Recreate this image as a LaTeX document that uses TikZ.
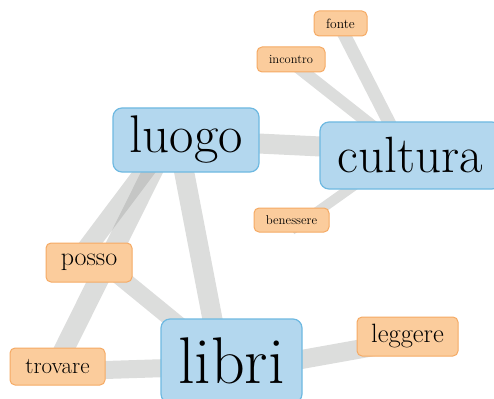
\documentclass[tikz,border=0pt]{standalone}
\usetikzlibrary{backgrounds}
\definecolor{bfill}{RGB}{179,215,238}
\definecolor{bline}{RGB}{110,185,225}
\definecolor{ofill}{RGB}{251,204,156}
\definecolor{oline}{RGB}{245,170,100}
\definecolor{egray}{RGB}{150,152,150}
\tikzset{
  bignode/.style={draw=bline, fill=bfill, line width=1.2pt, rounded corners=9pt, inner sep=0pt, align=center},
  smallnode/.style={draw=oline, fill=ofill, line width=1pt, rounded corners=5pt, inner sep=0pt, align=center},
  link/.style={draw=egray, opacity=0.33, line cap=butt}
}
\begin{document}
\begin{tikzpicture}[x=1pt,y=-1pt]
\useasboundingbox (0,0) rectangle (494,398);
\clip (0,0) rectangle (494,398);
% nodes
\node[bignode, minimum width=146pt, minimum height=64pt, font=\fontsize{53}{62}\selectfont] (luogo) at (186,140) {luogo};
\node[bignode, minimum width=181pt, minimum height=67pt, font=\fontsize{51}{60}\selectfont] (cultura) at (410.5,155.5) {cultura};
\node[bignode, minimum width=141pt, minimum height=84pt, font=\fontsize{66}{76}\selectfont] (libri) at (231.5,361) {libri};
\node[smallnode, minimum width=53pt, minimum height=25pt, font=\fontsize{13.5}{16}\selectfont] (fonte) at (340.5,23.5) {fonte};
\node[smallnode, minimum width=68pt, minimum height=25pt, font=\fontsize{12.5}{15}\selectfont] (incontro) at (291,59.5) {incontro};
\node[smallnode, minimum width=75pt, minimum height=24pt, font=\fontsize{12.8}{15}\selectfont] (benessere) at (291.5,220) {benessere};
\node[smallnode, minimum width=86pt, minimum height=39pt, font=\fontsize{26}{30}\selectfont] (posso) at (89,262.5) {posso};
\node[smallnode, minimum width=95pt, minimum height=37pt, font=\fontsize{23}{27}\selectfont] (trovare) at (57.5,366.5) {trovare};
\node[smallnode, minimum width=101pt, minimum height=39pt, font=\fontsize{26.5}{30}\selectfont] (leggere) at (407.5,336.5) {leggere};
% edges
\begin{scope}[on background layer]
\draw[link, line width=20pt] (luogo.center) -- ([shift={(-7,-5)}]cultura.center);
\draw[link, line width=20pt] ([xshift=-8]luogo.center) -- ([xshift=-11]libri.center);
\draw[link, line width=19pt] ([xshift=-18]luogo.center) -- ([xshift=-13]posso.center);
\draw[link, line width=20pt] ([xshift=-18]luogo.center) -- ([xshift=-2]trovare.center);
\draw[link, line width=17pt] ([yshift=11]posso.center) -- ([yshift=-7]libri.center);
\draw[link, line width=18pt] ([yshift=-5]trovare.center) -- ([yshift=-5]libri.center);
\draw[link, line width=19pt] ([yshift=-11]libri.center) -- ([yshift=-4]leggere.center);
\draw[link, line width=13pt] ([shift={(-7,-5)}]cultura.center) -- ([xshift=-2]fonte.center);
\draw[link, line width=12pt] ([shift={(-7,-5)}]cultura.center) -- ([xshift=-3]incontro.center);
\draw[link, line width=10pt] ([shift={(-7,-5)}]cultura.center) -- ([yshift=-10]benessere.center);
\end{scope}
\end{tikzpicture}
\end{document}
